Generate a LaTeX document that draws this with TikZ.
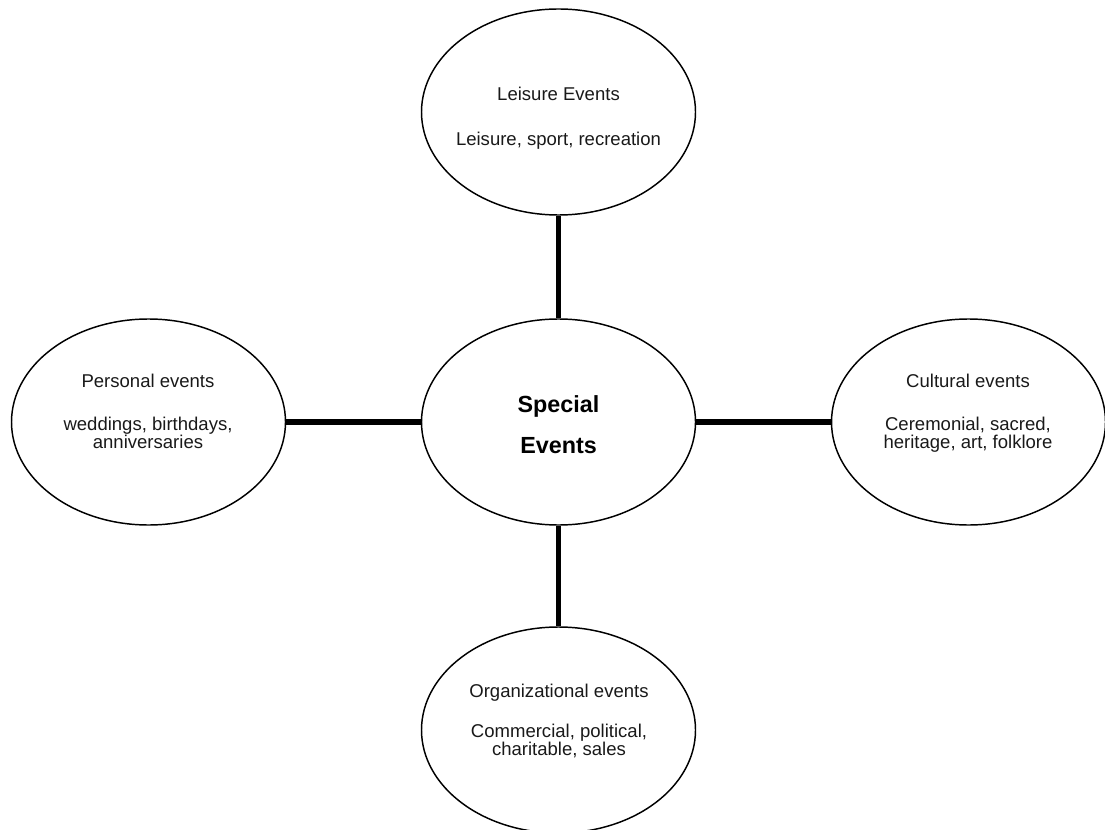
\documentclass[tikz,border=0pt]{standalone}
\usepackage{fontspec}
\setmainfont{Liberation Sans}
\usetikzlibrary{shapes.geometric}
\begin{document}
\begin{tikzpicture}[x=0.75pt,y=-0.75pt,
  event/.style={draw, ellipse, line width=1.1pt, minimum width=205.5pt,
    minimum height=154.5pt, inner sep=0pt},
  link/.style={line width=4.1pt},
  caption/.style={anchor=base, inner sep=0pt, align=center,
    font=\fontsize{13.9}{13.5}\selectfont, text=black!90},
  hubtext/.style={anchor=base, inner sep=0pt, align=center,
    font=\fontsize{17.5}{30.75}\selectfont\bfseries}]
\useasboundingbox (0,0) rectangle (1105,830);

% the five ellipses
\node[event] (leis) at (558.5,112) {};
\node[event] (pers) at (148.5,422) {};
\node[event] (hub)  at (558.5,422) {};
\node[event] (cult) at (968.5,422) {};
\node[event] (orgn) at (558.5,730) {};

% spokes from the hub
\draw[link] (hub) -- (leis);
\draw[link] (hub) -- (pers);
\draw[link] (hub) -- (cult);
\draw[link] (hub) -- (orgn);

% texts (anchored at the baseline of their last line)
\node[hubtext] (hub-t) at (558.5,453) {Special\\Events};
\node[caption] (leis-t) at (558.5,146)
  {Leisure Events\\[20.25pt]Leisure, sport, recreation};
\node[caption] (pers-t) at (148,448)
  {Personal events\\[18.75pt]weddings, birthdays,\\anniversaries};
\node[caption] (cult-t) at (968,448)
  {Cultural events\\[18.75pt]Ceremonial, sacred,\\heritage, art, folklore};
\node[caption] (orgn-t) at (559,755)
  {Organizational events\\[16.5pt]Commercial, political,\\charitable, sales};
\end{tikzpicture}
\end{document}
